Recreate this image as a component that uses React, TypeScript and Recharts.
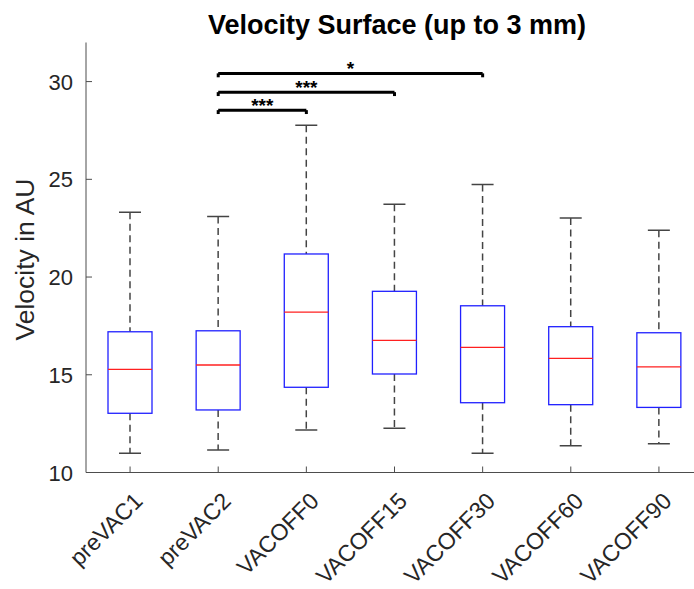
import { ComposedChart, Bar, XAxis, YAxis, ReferenceLine } from 'recharts';

const categories = ['preVAC1', 'preVAC2', 'VACOFF0', 'VACOFF15', 'VACOFF30', 'VACOFF60', 'VACOFF90'];
const lowerWhisker = [10.98, 11.15, 12.17, 12.26, 10.98, 11.37, 11.47];
const q1 = [13.03, 13.2, 14.36, 15.04, 13.57, 13.47, 13.33];
const median = [15.28, 15.5, 18.21, 16.76, 16.4, 15.84, 15.4];
const q3 = [17.2, 17.25, 21.18, 19.27, 18.53, 17.46, 17.15];
const upperWhisker = [23.31, 23.1, 27.76, 23.72, 24.74, 23.02, 22.4];

const yTicks = [10, 15, 20, 25, 30];

// significance brackets: all start at preVAC2
const bracketFrom = ['preVAC2', 'preVAC2', 'preVAC2'];
const bracketTo = ['VACOFF0', 'VACOFF15', 'VACOFF30'];
const bracketLevel = [28.54, 29.46, 30.42];
const bracketLabel = ['***', '***', '*'];

const FONT = '"Liberation Sans", Arial, Helvetica, sans-serif';
const AXIS = '#4d4d4d';
const TEXT = '#262626';

const data = categories.map((name, i) => ({
  name,
  range: [lowerWhisker[i], upperWhisker[i]],
  lo: lowerWhisker[i],
  q1: q1[i],
  med: median[i],
  q3: q3[i],
  hi: upperWhisker[i],
}));

const BoxShape = (props: any) => {
  const { x, y, width, height, payload } = props;
  const { lo, hi } = payload;
  const perUnit = height / (hi - lo);
  const toY = (v: number) => y + (hi - v) * perUnit;
  const cx = x + width / 2;
  const capHalf = width / 4;
  const yQ1 = toY(payload.q1);
  const yQ3 = toY(payload.q3);
  const yMed = toY(payload.med);
  return (
    <g>
      <line x1={cx} x2={cx} y1={y} y2={yQ3} stroke="#444" strokeWidth={1.5} strokeDasharray="7 4.5" />
      <line x1={cx} x2={cx} y1={yQ1} y2={y + height} stroke="#444" strokeWidth={1.5} strokeDasharray="7 4.5" />
      <line x1={cx - capHalf} x2={cx + capHalf} y1={y} y2={y} stroke="#444" strokeWidth={1.5} />
      <line x1={cx - capHalf} x2={cx + capHalf} y1={y + height} y2={y + height} stroke="#444" strokeWidth={1.5} />
      <rect x={x} y={yQ3} width={width} height={yQ1 - yQ3} fill="none" stroke="#2020ff" strokeWidth={1.3} />
      <line x1={x} x2={x + width} y1={yMed} y2={yMed} stroke="#ff2020" strokeWidth={1.3} />
    </g>
  );
};

const BottomTick = (props: any) => {
  const { x, y, payload } = props;
  const tx = x + 14;
  const ty = y + 30;
  return (
    <g>
      <line x1={x} x2={x} y1={y} y2={y - 6} stroke={AXIS} />
      <text x={tx} y={ty} textAnchor="end" transform={`rotate(-45 ${tx} ${ty})`} fontSize={23} fill={TEXT} fontFamily={FONT}>
        {payload.value}
      </text>
    </g>
  );
};

const TopTick = (props: any) => {
  const { x, y } = props;
  return <line x1={x} x2={x} y1={y} y2={y + 6} stroke={AXIS} />;
};

const LeftTick = (props: any) => {
  const { x, y, payload } = props;
  return (
    <g>
      <line x1={x} x2={x + 6} y1={y} y2={y} stroke={AXIS} />
      <text x={x - 13} y={y + 8} textAnchor="end" fontSize={22} fill={TEXT} fontFamily={FONT}>
        {payload.value}
      </text>
    </g>
  );
};

export default function App() {
  return (
    <div style={{ position: 'absolute', left: 0, top: 0, width: 694, height: 589, overflow: 'hidden', background: '#fff' }}>
      <ComposedChart width={720} height={589} data={data} margin={{ top: 42.5, right: 17, bottom: 0, left: 0 }}>
        <XAxis
          dataKey="name"
          height={116.5}
          tickSize={0}
          tickMargin={0}
          tickLine={false}
          tick={<BottomTick />}
          interval={0}
          axisLine={{ stroke: AXIS }}
        />
        <XAxis
          xAxisId="top"
          dataKey="name"
          orientation="top"
          height={0}
          tickSize={0}
          tickMargin={0}
          tickLine={false}
          tick={<TopTick />}
          interval={0}
          axisLine={{ stroke: AXIS }}
        />
        <YAxis
          width={86}
          domain={[10, 32]}
          ticks={yTicks}
          tickSize={0}
          tickMargin={0}
          tickLine={false}
          tick={<LeftTick />}
          axisLine={{ stroke: AXIS }}
          allowDataOverflow
        />
        <Bar dataKey="range" barSize={44} shape={<BoxShape />} isAnimationActive={false} />
        {bracketLevel.map((lvl, i) => (
          <ReferenceLine
            key={`h${i}`}
            segment={[{ x: bracketFrom[i], y: lvl }, { x: bracketTo[i], y: lvl }]}
            stroke="#000"
            strokeWidth={3}
            label={(p: any) => {
              const vb = p.viewBox;
              return (
                <text x={vb.x + vb.width / 2} y={vb.y + 2} textAnchor="middle" fontSize={19} fontWeight="bold" fill="#000" fontFamily={FONT}>
                  {bracketLabel[i]}
                </text>
              );
            }}
          />
        ))}
        {bracketLevel.map((lvl, i) => (
          <ReferenceLine key={`l${i}`} segment={[{ x: bracketFrom[i], y: lvl }, { x: bracketFrom[i], y: lvl - 0.2 }]} stroke="#000" strokeWidth={3} />
        ))}
        {bracketLevel.map((lvl, i) => (
          <ReferenceLine key={`r${i}`} segment={[{ x: bracketTo[i], y: lvl }, { x: bracketTo[i], y: lvl - 0.2 }]} stroke="#000" strokeWidth={3} />
        ))}
        <text x={397} y={34} textAnchor="middle" fontSize={27} fontWeight="bold" fill="#000" fontFamily={FONT}>
          Velocity Surface (up to 3 mm)
        </text>
        <text x={-259.5} y={34} transform="rotate(-90)" textAnchor="middle" fontSize={26.5} fill={TEXT} fontFamily={FONT}>
          Velocity in AU
        </text>
      </ComposedChart>
    </div>
  );
}
